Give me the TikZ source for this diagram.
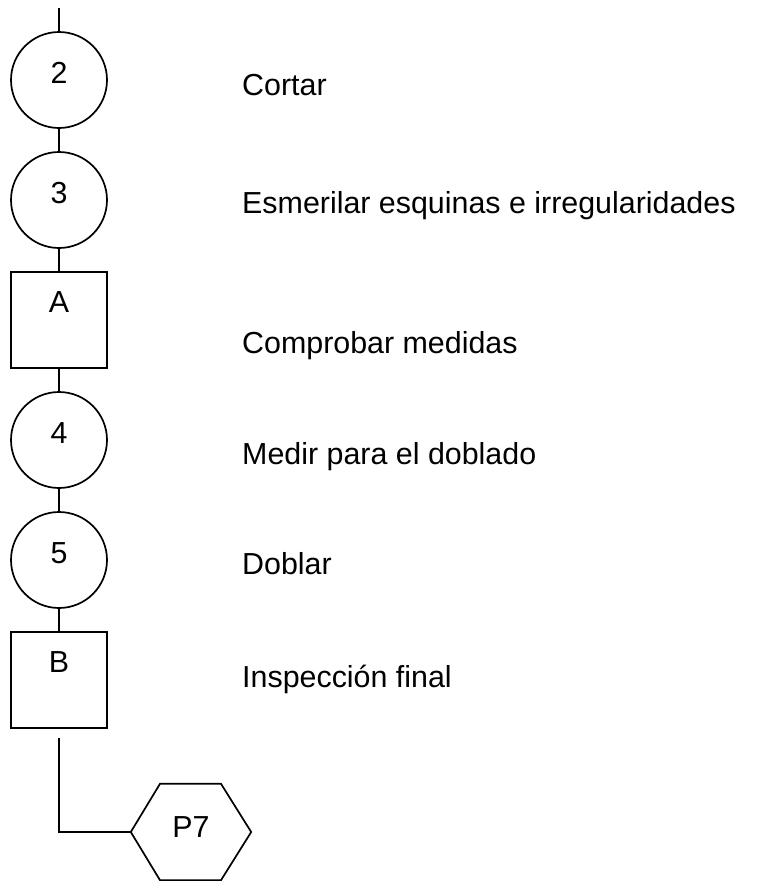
\documentclass[tikz,border=0pt]{standalone}
\usepackage{fontspec}
\setmainfont{Liberation Sans}
\usetikzlibrary{calc}
\begin{document}
\begin{tikzpicture}[x=1pt,y=-1pt,
  every node/.style={font=\fontsize{30.4pt}{35pt}\selectfont},
  ln/.style={line width=1.7pt},
  circ/.style={circle,draw,ln,minimum size=96pt,inner sep=0pt,text height=14pt,text depth=7pt},
  sq/.style={rectangle,draw,ln,minimum width=96pt,minimum height=96pt,inner sep=0pt,text height=0pt,text depth=16pt},
  hexn/.style={rectangle,draw=none,minimum width=120pt,minimum height=96pt,inner sep=0pt,text height=15pt,text depth=5pt},
  desc/.style={anchor=base west,inner sep=0pt}]
\useasboundingbox (0,0) rectangle (769,881);
\coordinate (top) at (59,8);
\node[circ] (c2) at (59,80) {2};
\node[circ] (c3) at (59,200) {3};
\node[sq] (A) at (59,320) {A};
\node[circ] (c4) at (59,440) {4};
\node[circ] (c5) at (59,560) {5};
\node[sq] (B) at (59,680) {B};
\node[hexn] (p7) at (191,832) {P7};
\draw[ln,line join=miter] (p7.west) -- ($(p7.north)+(-31,0)$) -- ($(p7.north)+(30,0)$) -- (p7.east)
  -- ($(p7.south)+(30,0)$) -- ($(p7.south)+(-31,0)$) -- cycle;
\draw[ln] (top) -- (c2);
\draw[ln] (c2) -- (c3);
\draw[ln] (c3) -- (A);
\draw[ln] (A) -- (c4);
\draw[ln] (c4) -- (c5);
\draw[ln] (c5) -- (B);
\draw[ln,shorten <=9pt] (B.south) |- (p7.west);
\node[desc] (t2) at (242,95) {Cortar};
\node[desc] (t3) at (242,213) {Esmerilar esquinas e irregularidades};
\node[desc] (tA) at (242,353) {Comprobar medidas};
\node[desc] (t4) at (242,464) {Medir para el doblado};
\node[desc] (t5) at (242,574) {Doblar};
\node[desc] (tB) at (242,687) {Inspección final};
\end{tikzpicture}
\end{document}
